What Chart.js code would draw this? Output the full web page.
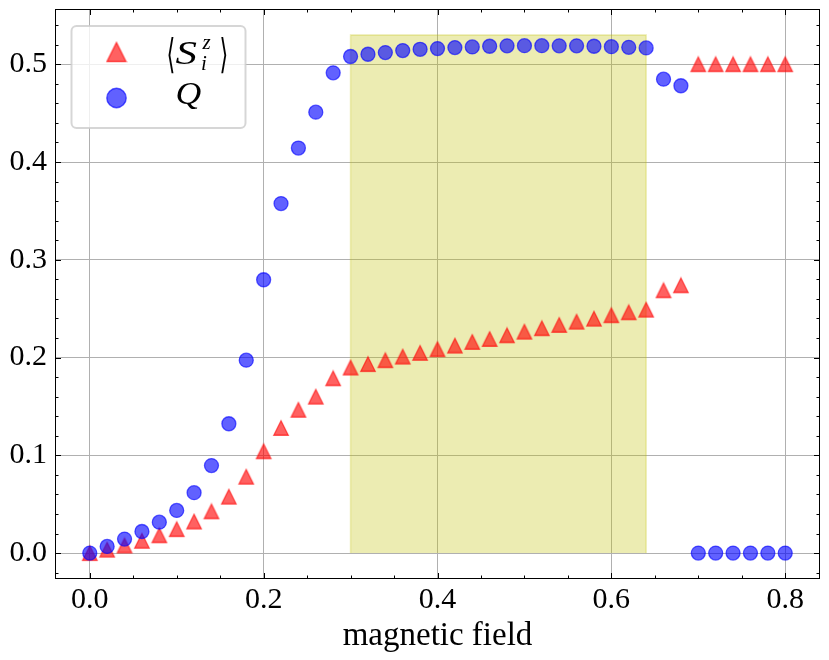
<!DOCTYPE html>
<html>
<head>
<meta charset="utf-8">
<script src="https://cdn.jsdelivr.net/npm/chart.js@4.4.1/dist/chart.umd.min.js"></script>
<style>
  html, body { margin: 0; padding: 0; background: #fff; }
  #wrap { width: 829px; height: 660px; }
</style>
</head>
<body>
<div id="wrap"><canvas id="graph"></canvas></div>
<script>
// magnetic field values (x)
const fieldValues = [0.00, 0.02, 0.04, 0.06, 0.08, 0.10, 0.12, 0.14, 0.16, 0.18,
    0.20, 0.22, 0.24, 0.26, 0.28, 0.30, 0.32, 0.34, 0.36, 0.38,
    0.40, 0.42, 0.44, 0.46, 0.48, 0.50, 0.52, 0.54, 0.56, 0.58,
    0.60, 0.62, 0.64, 0.66, 0.68, 0.70, 0.72, 0.74, 0.76, 0.78, 0.80];

// <S_i^z> (red triangles)
const spinZ = [0.000, 0.0035, 0.0078, 0.0126, 0.0182, 0.0245, 0.0323, 0.0427, 0.0577, 0.0781,
    0.1041, 0.128, 0.1466, 0.160, 0.1788, 0.1898, 0.1933, 0.1973, 0.201, 0.2048,
    0.2086, 0.2122, 0.216, 0.219, 0.2228, 0.2265, 0.230, 0.2334, 0.2367, 0.2398,
    0.2433, 0.2463, 0.249, 0.2688, 0.2739, 0.5, 0.5, 0.5, 0.5, 0.5, 0.5];

// Q (blue circles)
const qValues = [0.000, 0.0068, 0.0143, 0.0221, 0.0316, 0.0436, 0.0618, 0.0895, 0.1323, 0.1973,
    0.2796, 0.3575, 0.4143, 0.451, 0.4912, 0.5079, 0.5102, 0.5119, 0.514, 0.5153,
    0.516, 0.517, 0.5177, 0.5184, 0.5188, 0.519, 0.519, 0.5188, 0.5188, 0.5184,
    0.518, 0.5173, 0.5167, 0.4847, 0.478, 0, 0, 0, 0, 0, 0];

// shaded band
const bandX = [0.30, 0.64];
const bandTop = 0.53;

// axes
const xLimits = [-0.04, 0.84];
const yLimits = [-0.0265, 0.5565];
const xTicks = [0.0, 0.2, 0.4, 0.6, 0.8];
const yTicks = [0.0, 0.1, 0.2, 0.3, 0.4, 0.5];
const xMinorTicks = [0.05, 0.10, 0.15, 0.25, 0.30, 0.35, 0.45, 0.50, 0.55, 0.65, 0.70, 0.75];
const yMinorTicks = [-0.02, 0.02, 0.04, 0.06, 0.08, 0.12, 0.14, 0.16, 0.18, 0.22, 0.24, 0.26, 0.28,
    0.32, 0.34, 0.36, 0.38, 0.42, 0.44, 0.46, 0.48, 0.52, 0.54];

const RED = 'rgba(255,0,0,0.62)';
const BLUE = 'rgba(0,0,255,0.62)';
const SERIF = "'Liberation Serif', 'DejaVu Serif', serif";

// matplotlib style "^" marker (width == height)
const triangleImage = (size, fill, stroke, lw) => {
    const c = document.createElement('canvas');
    c.width = c.height = Math.ceil(size + 2 * lw);
    const g = c.getContext('2d');
    const s = size / 2, m = c.width / 2;
    g.beginPath();
    g.moveTo(m, m - s);
    g.lineTo(m + s, m + s);
    g.lineTo(m - s, m + s);
    g.closePath();
    g.fillStyle = fill;
    g.fill();
    g.lineWidth = lw;
    g.strokeStyle = stroke;
    g.stroke();
    return c;
};

const plotTriangle = triangleImage(14.5, RED, RED, 1.3);
const legendTriangle = triangleImage(19, RED, RED, 1.4);

const toPoints = (ys) => fieldValues.map((x, i) => ({ x: x, y: ys[i] }));

// inward ticks on all four sides plus the frame
const frameTicks = {
    id: 'frameTicks',
    afterDraw(chart) {
        const { ctx, chartArea: a, scales: { x, y } } = chart;
        ctx.save();
        ctx.strokeStyle = '#000';
        ctx.lineWidth = 1;
        const tick = (px, len, horiz) => {
            ctx.beginPath();
            if (horiz) {
                ctx.moveTo(px, a.bottom); ctx.lineTo(px, a.bottom - len);
                ctx.moveTo(px, a.top); ctx.lineTo(px, a.top + len);
            } else {
                ctx.moveTo(a.left, px); ctx.lineTo(a.left + len, px);
                ctx.moveTo(a.right, px); ctx.lineTo(a.right - len, px);
            }
            ctx.stroke();
        };
        xTicks.forEach(v => tick(Math.round(x.getPixelForValue(v)) + 0.5, 6, true));
        xMinorTicks.forEach(v => tick(Math.round(x.getPixelForValue(v)) + 0.5, 3.5, true));
        yTicks.forEach(v => tick(Math.round(y.getPixelForValue(v)) + 0.5, 6, false));
        yMinorTicks.forEach(v => tick(Math.round(y.getPixelForValue(v)) + 0.5, 3.5, false));
        ctx.strokeRect(a.left + 0.5, a.top + 0.5, a.right - a.left - 1, a.bottom - a.top - 1);
        ctx.restore();
    }
};

// draw an angle bracket stretched to look like the TeX one
const bracket = (ctx, ch, x, base) => {
    ctx.save();
    ctx.font = "28px 'DejaVu Serif', serif";
    ctx.translate(x, base + 4);
    ctx.scale(0.8, 1.45);
    ctx.fillText(ch, 0, 0);
    ctx.restore();
};

// legend box in the upper left corner
const mplLegend = {
    id: 'mplLegend',
    afterDatasetsDraw(chart) {
        const { ctx, chartArea: a } = chart;
        const bx = a.left + 16.5, by = a.top + 17, bw = 174, bh = 102;
        ctx.save();
        ctx.beginPath();
        ctx.roundRect(bx, by, bw, bh, 5);
        ctx.fillStyle = 'rgba(255,255,255,0.8)';
        ctx.fill();
        ctx.lineWidth = 2;
        ctx.strokeStyle = 'rgba(204,204,204,0.8)';
        ctx.stroke();

        const mx = bx + 45;
        const row1 = by + 26, row2 = by + 72;
        ctx.drawImage(legendTriangle, mx - legendTriangle.width / 2, row1 - legendTriangle.height / 2);
        ctx.fillStyle = BLUE;
        ctx.strokeStyle = BLUE;
        ctx.lineWidth = 1.4;
        ctx.beginPath();
        ctx.arc(mx, row2, 9.7, 0, Math.PI * 2);
        ctx.fill();
        ctx.stroke();

        // <S_i^z>
        ctx.fillStyle = '#000';
        ctx.textBaseline = 'alphabetic';
        const base1 = row1 + 11.5;
        bracket(ctx, '\u27E8', bx + 95, base1);
        ctx.save();
        ctx.font = 'italic 33px ' + SERIF;
        ctx.translate(bx + 104, base1);
        ctx.scale(1.3, 1);
        ctx.fillText('S', 0, 0);
        ctx.restore();
        ctx.font = 'italic 21px ' + SERIF;
        ctx.fillText('z', bx + 131, base1 - 15);
        ctx.fillText('i', bx + 129.5, base1 + 6);
        bracket(ctx, '\u27E9', bx + 148, base1);

        // Q
        ctx.save();
        ctx.font = 'italic 31px ' + SERIF;
        ctx.translate(bx + 104, row2 + 6);
        ctx.scale(1.15, 1);
        ctx.fillText('Q', 0, 0);
        ctx.restore();
        ctx.restore();
    }
};

Chart.defaults.font.family = SERIF;
Chart.defaults.color = '#000';

const ctx = document.getElementById('graph').getContext('2d');
const chart = new Chart(ctx, {
    type: 'scatter',
    data: {
        datasets: [
            {
                label: 'band',
                type: 'line',
                data: [
                    { x: bandX[0], y: 0 }, { x: bandX[0], y: bandTop },
                    { x: bandX[1], y: bandTop }, { x: bandX[1], y: 0 }
                ],
                showLine: true,
                borderColor: 'rgba(191,191,0,0.3)',
                backgroundColor: 'rgba(191,191,0,0.3)',
                borderWidth: 1.5,
                pointRadius: 0,
                fill: 'origin',
                tension: 0,
                order: 3
            },
            {
                label: 'S',
                data: toPoints(spinZ),
                pointStyle: plotTriangle,
                pointRadius: 8,
                order: 2
            },
            {
                label: 'Q',
                data: toPoints(qValues),
                pointStyle: 'circle',
                pointRadius: 7,
                borderWidth: 1.3,
                backgroundColor: BLUE,
                borderColor: BLUE,
                order: 1
            }
        ]
    },
    options: {
        responsive: true,
        maintainAspectRatio: false,
        animation: false,
        events: [],
        layout: { padding: { left: 0, top: 7, right: 8, bottom: 0 } },
        scales: {
            x: {
                type: 'linear',
                min: xLimits[0],
                max: xLimits[1],
                afterBuildTicks: s => { s.ticks = xTicks.map(v => ({ value: v })); },
                afterFit: s => { s.height = 81; s.paddingLeft = 0; s.paddingRight = 0; },
                ticks: {
                    font: { size: 30 },
                    padding: 3,
                    maxRotation: 0,
                    callback: v => v.toFixed(1)
                },
                grid: { color: '#b0b0b0', lineWidth: 1, drawTicks: false },
                border: { display: false },
                title: {
                    display: true,
                    text: 'magnetic field',
                    font: { size: 33 },
                    padding: { top: 0, bottom: 4 }
                }
            },
            y: {
                type: 'linear',
                min: yLimits[0],
                max: yLimits[1],
                afterBuildTicks: s => { s.ticks = yTicks.map(v => ({ value: v })); },
                afterFit: s => { s.width = 55; s.paddingTop = 0; s.paddingBottom = 0; },
                ticks: {
                    font: { size: 30 },
                    padding: 8,
                    callback: v => v.toFixed(1)
                },
                grid: { color: '#b0b0b0', lineWidth: 1, drawTicks: false },
                border: { display: false }
            }
        },
        plugins: {
            legend: { display: false },
            tooltip: { enabled: false }
        }
    },
    plugins: [mplLegend, frameTicks]
});
</script>
</body>
</html>
